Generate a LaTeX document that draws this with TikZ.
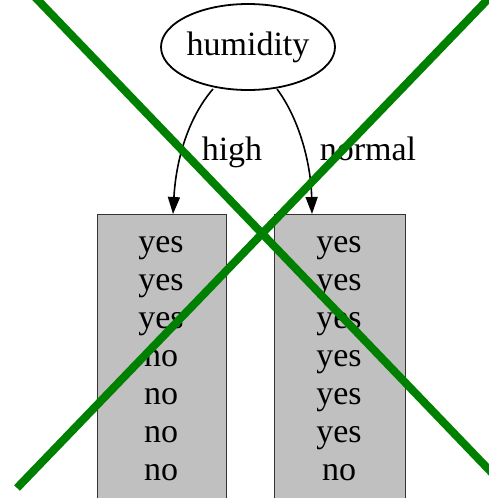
\documentclass[tikz,border=0pt]{standalone}
\usepackage{fontspec}
\setmainfont{Liberation Serif}
\usetikzlibrary{arrows.meta,shapes.geometric}
\definecolor{crossgreen}{RGB}{0,128,0}
\definecolor{boxgray}{RGB}{192,192,192}
\tikzset{
  lbl/.style={font=\fontsize{34}{38}\selectfont, inner sep=0pt, anchor=base},
  leafbox/.style={draw=black!80, line width=1pt, fill=boxgray, rectangle, inner sep=0pt},
  edge/.style={draw=black, line width=1.6pt, -{Triangle[length=17pt,width=12pt]}},
  cross/.style={draw=crossgreen, line width=8pt}
}
\begin{document}
\begin{tikzpicture}[x=1pt,y=-1pt]
\useasboundingbox (0,0) rectangle (489,498);
\clip (0,0) rectangle (489,498);
% root
\node[draw=black, line width=1.8pt, ellipse, minimum width=174pt, minimum height=86pt, inner sep=0pt,
      font=\fontsize{34}{38}\selectfont] (hum) at (248,47) {humidity};
% leaf boxes
\node[leafbox, minimum width=129pt, minimum height=300pt, anchor=north] (L) at (161.5,214) {};
\node[leafbox, minimum width=131pt, minimum height=300pt, anchor=north] (R) at (339.5,214) {};
% leaf texts
\foreach \w [count=\i] in {yes,yes,yes,no,no,no,no}
  \node[lbl] (l\i) at (161,{252+(\i-1)*38}) {\w};
\foreach \w [count=\i] in {yes,yes,yes,yes,yes,yes,no}
  \node[lbl] (r\i) at (339,{252+(\i-1)*38}) {\w};
% edges
\coordinate (hl) at (213,89);
\coordinate (hr) at (277,89);
\coordinate (tl) at (173,214);
\coordinate (tr) at (312,214);
\draw[edge] (hl) .. controls (188,118) and (176,160) .. (tl);
\draw[edge] (hr) .. controls (300,120) and (311,165) .. (tr);
\node[lbl] (high) at (232,160) {high};
\node[lbl] (normal) at (368,160) {normal};
% cross
\coordinate (c1a) at (33,-5);
\coordinate (c1b) at (494,475);
\coordinate (c2a) at (17,488);
\coordinate (c2b) at (492,-5);
\draw[cross] (c1a) -- (c1b);
\draw[cross] (c2a) -- (c2b);
\end{tikzpicture}
\end{document}
